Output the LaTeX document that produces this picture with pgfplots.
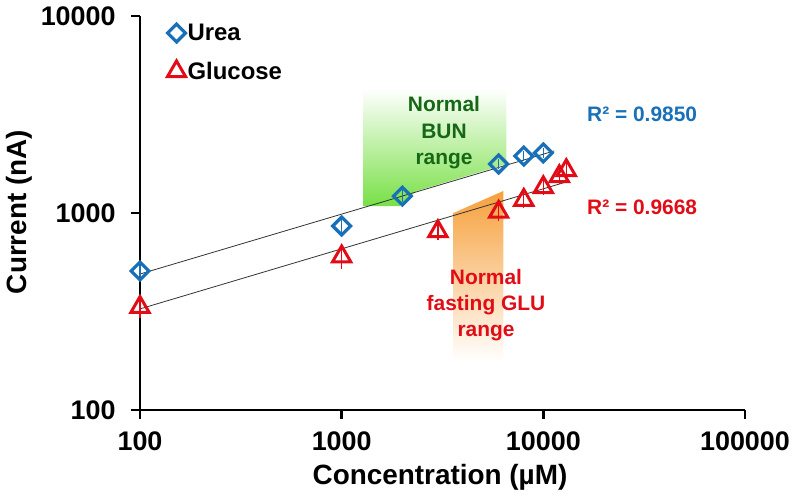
\documentclass[border=0pt]{standalone}
\usepackage{pgfplots}
\pgfplotsset{compat=1.18}
\usepackage{fontspec}
\setmainfont{Liberation Sans}
\definecolor{ublue}{RGB}{24,112,184}
\definecolor{gred}{RGB}{226,12,22}
\definecolor{dgreen}{RGB}{22,104,22}
\definecolor{lgreen}{RGB}{120,224,70}
\definecolor{lorange}{RGB}{246,160,60}
\begin{document}
\begin{tikzpicture}
\useasboundingbox (-140bp,-94bp) rectangle (660bp,410bp);
\begin{axis}[
  at={(0,0)}, anchor=south west,
  scale only axis, width=605bp, height=394bp,
  xmode=log, ymode=log,
  xmin=100, xmax=100000, ymin=100, ymax=10000,
  axis lines*=left,
  axis line style={line width=2.8bp, black},
  xtick={100,1000,10000,100000}, xticklabels={100,1000,10000,100000},
  ytick={100,1000,10000}, yticklabels={100,1000,10000},
  xminorticks=false, yminorticks=false,
  tick align=outside,
  major tick length=9bp,
  tick style={line width=2.5bp, black},
  ticklabel style={font=\fontsize{27}{30}\selectfont\bfseries},
  xticklabel style={yshift=-9bp},
  yticklabel style={xshift=-12bp},
  clip=false,
  legend style={draw=none, fill=none, at={(rel axis cs:0.045,0.985)}, anchor=north west,
    font=\fontsize{24}{28}\selectfont\bfseries, row sep=16bp, inner sep=0pt},
  legend cell align=left,
]
% shaded normal ranges
\addplot[draw=none, forget plot, top color=white, bottom color=lgreen]
  coordinates {(1285,4260) (6560,4260) (6560,1773) (2350,1293) (1936,1085) (1285,1085)} -- cycle;
\addplot[draw=none, forget plot, top color=lorange, bottom color=white]
  coordinates {(3580,1000) (6340,1294) (6340,177) (3580,177)} -- cycle;
% trend lines
\addplot[forget plot, black!80, line width=0.8bp] coordinates {(100,490) (11330,2066)};
\addplot[forget plot, black!80, line width=0.8bp] coordinates {(100,326) (13460,1453)};
% data
\addplot[only marks, mark=square, mark size=6.3bp, mark options={rotate=45, line width=3.2bp, draw=ublue, fill=white},
  error bars/.cd, y dir=both, y explicit, error bar style={ublue, line width=1.2bp}, error mark options={ublue, line width=1.2bp, mark size=3bp}]
  coordinates {(100,508) +- (0,15) (1000,859) +- (0,40) (2000,1219) +- (0,40) (6000,1773) +- (0,50) (8000,1945) +- (0,40) (10000,2018) +- (0,40)};
\addlegendentry{Urea}
\addplot[only marks, mark=triangle, mark size=10.5bp, mark options={line width=3bp, draw=gred, fill=white},
  error bars/.cd, y dir=both, y explicit, error bar style={gred, line width=1.4bp}, error mark options={gred, line width=1.4bp, mark size=4bp}]
  coordinates {(100,333) +- (0,25) (1000,601) +- (0,55) (3000,807) +- (0,40) (6000,1012) +- (0,60) (8000,1164) +- (0,50) (10000,1350) +- (0,60) (12000,1535) +- (0,70) (13000,1648) +- (0,60)};
\addlegendentry{Glucose}
\end{axis}
\node[font=\fontsize{28}{32}\selectfont\bfseries, inner sep=0pt] at (300bp,-67bp) {Concentration (µM)};
\node[font=\fontsize{28}{32}\selectfont\bfseries, inner sep=0pt, rotate=90] at (-121bp,198bp) {Current (nA)};
\node[font=\fontsize{21}{26.5}\selectfont\bfseries, text=dgreen, align=center, inner sep=0pt] at (304bp,277bp) {Normal\\BUN\\range};
\node[font=\fontsize{21}{26}\selectfont\bfseries, text=gred, align=center, inner sep=0pt] at (346bp,105bp) {Normal\\fasting GLU\\range};
\node[font=\fontsize{21}{25}\selectfont\bfseries, text=ublue, anchor=west, inner sep=0pt] at (447bp,296bp) {R² = 0.9850};
\node[font=\fontsize{21}{25}\selectfont\bfseries, text=gred, anchor=west, inner sep=0pt] at (447bp,203bp) {R² = 0.9668};
\end{tikzpicture}
\end{document}
